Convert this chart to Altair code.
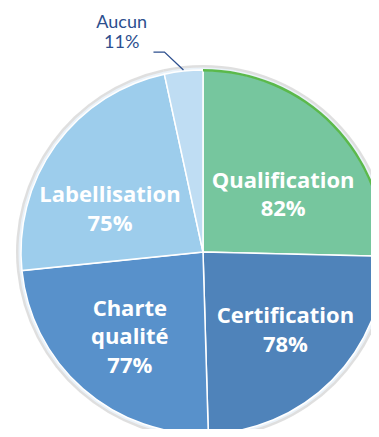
import math
import altair as alt
import pandas as pd

categories = ["Qualification", "Certification", "Charte qualité", "Labellisation", "Aucun"]
values = [82, 78, 77, 75, 11]
labels = ["Qualification\n82%", "Certification\n78%", "Charte\nqualité\n77%", "Labellisation\n75%", "Aucun\n11%"]
colors = ["#76C69E", "#4F83BA", "#5891CB", "#9DCDEC", "#BFDDF3"]

df = pd.DataFrame({
    "cat": categories,
    "val": values,
    "label": labels,
    "ordre": list(range(len(categories))),
})

CX, CY, R = 195, 244, 182

# label nudges (styling only): dx, dy from the slice's mid-angle anchor
nudges = {
    "Qualification": (5, 2),
    "Certification": (8, -10),
    "Charte qualité": (-4, -22),
    "Labellisation": (-8, 5),
}

# leader line for "Aucun", anchored at the slice's mid-angle
total = sum(values)
start = sum(values[:-1]) / total * 2 * math.pi
mid = start + values[-1] / total * math.pi
ax = CX + (R + 1) * math.sin(mid)
ay = CY - (R + 1) * math.cos(mid)
leader = pd.DataFrame({
    "px": [ax, ax - 19, ax - 30],
    "py": [ay, ay - 18, ay - 18],
    "k": [0, 1, 2],
})

theta = alt.Theta("val:Q", stack=True)
order = alt.Order("ordre:Q")
color = alt.Color("cat:N", scale=alt.Scale(domain=categories, range=colors), legend=None)

base = alt.Chart(df).encode(theta=theta, order=order)

shadow = base.mark_arc(outerRadius=R + 5, x=CX, y=CY, color="#c4c4c4", opacity=0.55)
rim = base.mark_arc(outerRadius=R + 2.5, x=CX, y=CY, color="#eaf2f9")
arcs = base.mark_arc(outerRadius=R, x=CX, y=CY, stroke="white", strokeWidth=1.5).encode(color=color)
green_edge = base.mark_arc(outerRadius=R + 1, innerRadius=R - 1.5, x=CX, y=CY).encode(
    color=alt.condition(alt.datum.cat == "Qualification", alt.value("#5BB94B"), alt.value("transparent"))
)

layers = [shadow, rim, arcs, green_edge]
for cat, (dx, dy) in nudges.items():
    layers.append(
        base.transform_calculate(t=f"datum.cat == '{cat}' ? datum.label : ''").mark_text(
            radius=105, x=CX, y=CY, dx=dx, dy=dy, font="Open Sans", fontWeight="bold",
            fontSize=22, color="white", lineBreak="\n", lineHeight=28.5,
            baseline="middle", align="center",
        ).encode(text="t:N")
    )

outer_text = base.transform_calculate(t="datum.cat == 'Aucun' ? datum.label : ''").mark_text(
    radius=228, x=CX, y=CY, dx=-57, dy=-2, font="Lato", fontSize=18,
    color="#2D4F8E", lineBreak="\n", lineHeight=20, baseline="middle", align="center",
).encode(text="t:N")
layers.append(outer_text)

line = alt.Chart(leader).mark_line(color="#2D4F8E", strokeWidth=1.3).encode(
    x=alt.X("px:Q", scale=None), y=alt.Y("py:Q", scale=None), order="k:Q"
)
layers.append(line)

chart = alt.layer(*layers).properties(
    width=363, height=421, padding=0, autosize="none"
).configure_view(stroke=None)

chart.save("out.html", embed_options={"renderer": "svg", "actions": False})
